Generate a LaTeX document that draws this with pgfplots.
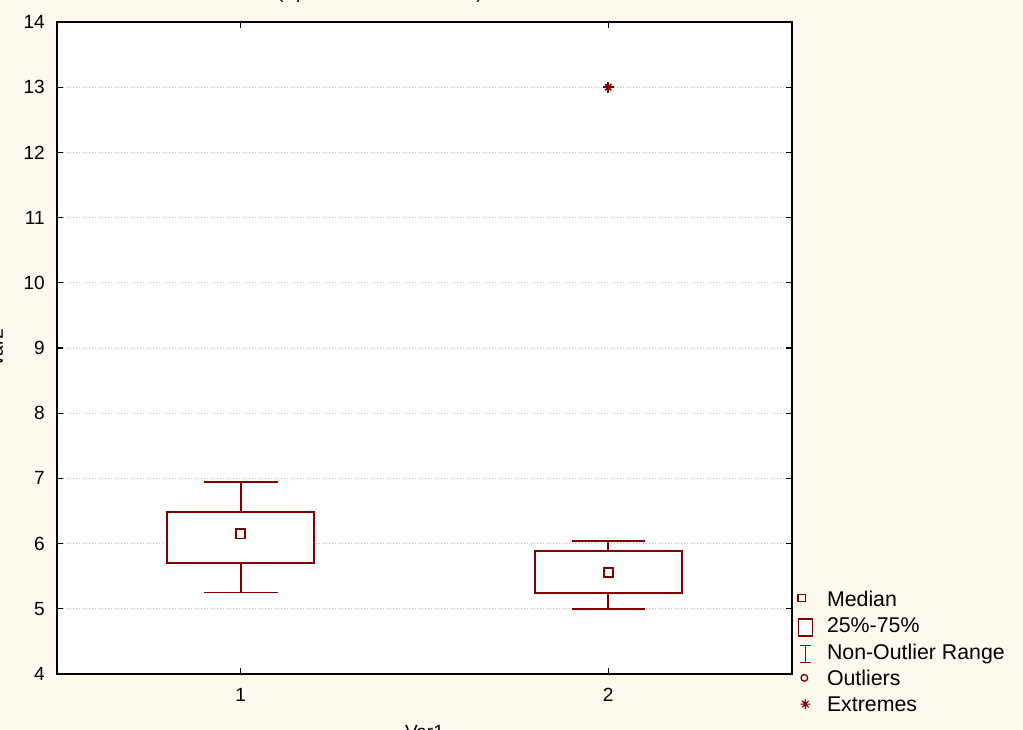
\documentclass[border=0pt]{standalone}
\usepackage{fontspec}
\setmainfont{Liberation Sans}
\usepackage{pgfplots}
\pgfplotsset{compat=1.18}
\usepgfplotslibrary{statistics}
\definecolor{bg}{HTML}{FFFAEF}
\definecolor{boxred}{HTML}{800000}
\definecolor{gridgray}{HTML}{B8B8B8}
\newcommand{\lblfont}{\fontsize{14.3}{17}\selectfont}
\pgfplotsset{
  sbox/.style={draw=boxred, line width=1.4pt, fill=white, solid},
  legimg/.style={legend image code/.code={%
    \path[draw=none, fill=none] (0pt,-6.7pt) rectangle (12pt,6.8pt);
    #1}},
}
\begin{document}
\begin{tikzpicture}
\useasboundingbox (0,0) rectangle (767.25pt,547.5pt);
\fill[bg] (0,0) rectangle (767.25pt,547.5pt);
% title, mostly above the page edge as in the reference
\node[anchor=base east, inner sep=0pt, font=\lblfont] at (362.25pt,548.25pt)
  {Box Plot (Spreadsheet1 10v*10c)};
\begin{axis}[
  at={(42.75pt,42pt)}, anchor=south west,
  width=551.25pt, height=489pt, scale only axis,
  xmin=0.5, xmax=2.5, ymin=4, ymax=14,
  xtick={1,2}, ytick={4,5,...,14},
  axis background/.style={fill=white},
  axis line style={line width=1.5pt},
  tick align=inside, major tick length=4.5pt,
  tick style={black, line width=0.8pt},
  ymajorgrids, grid style={gridgray, dotted, line width=0.7pt},
  /pgf/number format/assume math mode=true,
  tick label style={font=\lblfont},
  yticklabel style={inner xsep=0pt, xshift=-9pt},
  xticklabel style={inner ysep=0pt, yshift=-10.5pt},
  xlabel={Var1}, ylabel={Var2},
  label style={font=\lblfont, inner sep=0pt},
  xlabel style={at={(axis description cs:0.5,0)}, anchor=base, yshift=-48.75pt},
  ylabel style={at={(axis description cs:-0.0735,0.5)}, anchor=base},
  boxplot/draw direction=y,
  boxplot/every median/.style={draw=none},
  legend cell align=left,
  legend style={at={(rel axis cs:1.0068,0.1262)}, anchor=north west,
    draw=none, fill=none, inner sep=0pt, font=\fontsize{16}{18}\selectfont,
    row sep=6.15pt,
    nodes={inner xsep=1pt, inner ysep=0pt, text height=10.5pt, text depth=3pt},
    /tikz/every odd column/.append style={column sep=9.3pt}},
]
% legend entries first, the plots below carry none
\addlegendimage{legimg={\draw[boxred, line width=1pt, fill=white]
  (0.6pt,-0.5pt) rectangle (6.2pt,5.1pt);}}
\addlegendentry{Median}
\addlegendimage{legimg={\draw[boxred, line width=1pt, fill=white]
  (0.8pt,-6.3pt) rectangle (11.3pt,6.5pt);}}
\addlegendentry{25\%-75\%}
\addlegendimage{legimg={\draw[boxred, line width=1pt]
  (2pt,-6.3pt) -- (10pt,-6.3pt) (6pt,-6.3pt) -- (6pt,6.5pt) (2pt,6.5pt) -- (10pt,6.5pt);}}
\addlegendentry{Non-Outlier Range}
\addlegendimage{legimg={\draw[boxred, line width=1pt] (5.3pt,2pt) circle (2.5pt);}}
\addlegendentry{Outliers}
\addlegendimage{legimg={\draw[boxred, line width=0.9pt]
  (2.4pt,2pt) -- (9.6pt,2pt) (6pt,-1.6pt) -- (6pt,5.6pt)
  (3.5pt,-0.5pt) -- (8.5pt,4.5pt) (3.5pt,4.5pt) -- (8.5pt,-0.5pt);}}
\addlegendentry{Extremes}

\addplot[sbox, boxplot prepared={draw position=1,
  lower whisker=5.25, lower quartile=5.70, median=6.15,
  upper quartile=6.49, upper whisker=6.94,
  box extend=0.4, whisker extend=0.2}] coordinates {};
\addplot[sbox, boxplot prepared={draw position=2,
  lower whisker=5.00, lower quartile=5.24, median=5.56,
  upper quartile=5.88, upper whisker=6.04,
  box extend=0.4, whisker extend=0.2}] coordinates {};
% medians
\addplot[only marks, mark=square, mark size=3.4pt,
  mark options={boxred, line width=1.2pt, fill=white}]
  coordinates {(1,6.15) (2,5.56)};
% extremes
\addplot[only marks, mark=+, mark size=4pt,
  mark options={boxred, line width=1.2pt}] coordinates {(2,13)};
\addplot[only marks, mark=x, mark size=3.3pt,
  mark options={boxred, line width=1.2pt}] coordinates {(2,13)};
\end{axis}
\end{tikzpicture}
\end{document}
